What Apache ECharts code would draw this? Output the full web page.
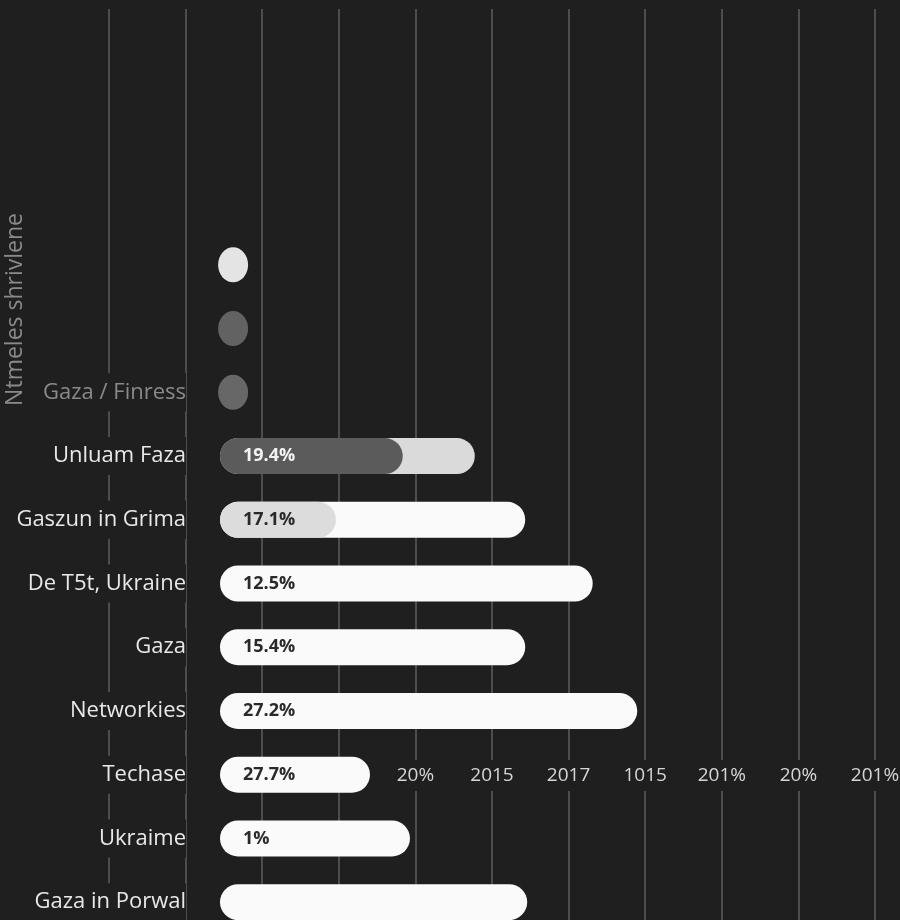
<!DOCTYPE html>
<html>
<head>
<meta charset="utf-8">
<script src="https://cdn.jsdelivr.net/npm/echarts@6/dist/echarts.min.js"></script>
<style>
  html, body { margin: 0; padding: 0; background: #1f1f1f; }
  #chart { width: 900px; height: 920px; }
</style>
</head>
<body>
<div id="chart"></div>
<script>
// rows top to bottom
const categories = ["", "", "Gaza / Finress", "Unluam Faza", "Gaszun in Grima", "De T5t, Ukraine",
  "Gaza", "Networkies", "Techase", "Ukraime", "Gaza in Porwal"];
// full bar length
const totals = [null, null, null, 38.9, 46.6, 56.9, 46.6, 63.7, 22.9, 29.0, 46.9];
// inner highlighted segment
const parts = [null, null, null, 27.9, 17.7, null, null, null, null, null, null];
const barLabels = ["", "", "", "19.4%", "17.1%", "12.5%", "15.4%", "27.2%", "27.7%", "1%", ""];
// dots in the three top rows
const dots = [2, 2, 2, null, null, null, null, null, null, null, null];
const dotColors = ["#e4e4e4", "#626262", "#676767"];
const partColors = { 3: "#5b5b5b", 4: "#dcdcdc" };
const totalColors = { 3: "#dadada" };
// labels along the grid lines
const tickLabels = ["", "", "", "", "20%", "2015", "2017", "1015", "201%", "20%", "201%"];

const FONT = "Open Sans";
const BG = "#1f1f1f";
const chart = echarts.init(document.getElementById("chart"));

const option = {
  backgroundColor: BG,
  animation: false,
  grid: [
    { left: 109, right: 25, top: 9, bottom: 0, outerBoundsMode: "none" },
    { left: 220, right: 25, top: 233, height: 701, outerBoundsMode: "none" }
  ],
  xAxis: [
    {
      gridIndex: 0, type: "value", min: 0, max: 10, interval: 1,
      position: "bottom", offset: -168, z: 1,
      axisLine: { show: false }, axisTick: { show: false },
      splitLine: { show: true, lineStyle: { color: "#5e5e5e", width: 1.5 } },
      axisLabel: {
        show: true, margin: 8,
        showMinLabel: true, showMaxLabel: true,
        formatter: (v) => (tickLabels[v] ? "{t|" + tickLabels[v] + "}" : ""),
        rich: {
          t: { color: "#d6d6d6", fontFamily: FONT, fontSize: 19, backgroundColor: BG, padding: [6, 3] }
        }
      }
    },
    {
      gridIndex: 1, type: "value", min: 0, max: 100, show: false
    }
  ],
  yAxis: [
    { gridIndex: 0, type: "value", show: false },
    {
      gridIndex: 1, type: "category", data: categories, inverse: true, z: 5,
      axisLine: { show: false }, axisTick: { show: false }, splitLine: { show: false },
      axisLabel: {
        margin: 34,
        formatter: (v, i) => (v ? (i === 2 ? "{g|" + v + "}" : "{w|" + v + "}") : ""),
        rich: {
          w: { color: "#e8e8e8", fontFamily: FONT, fontSize: 22, backgroundColor: BG, padding: [8, 0, 8, 4] },
          g: { color: "#8a8a8a", fontFamily: FONT, fontSize: 22, backgroundColor: BG, padding: [8, 0, 8, 4] }
        }
      }
    }
  ],
  // axis name on the far left, reading bottom to top
  graphic: [
    {
      type: "text", left: 4, top: 213, rotation: Math.PI / 2, originX: 0, originY: 0,
      style: { text: "Ntmeles shrivlene", fill: "#8a8a8a", font: "23px 'Open Sans'" }
    }
  ],
  series: [
    {
      type: "bar", xAxisIndex: 1, yAxisIndex: 1, barWidth: 36, z: 2,
      data: totals.map((v, i) => ({
        value: v,
        itemStyle: { color: totalColors[i] || "#fafafa", borderRadius: 18 }
      })),
      label: {
        show: true, position: "insideLeft", offset: [18, 0],
        fontFamily: FONT, fontSize: 18, fontWeight: "bold", color: "#2a2a2a",
        formatter: (p) => (parts[p.dataIndex] == null ? barLabels[p.dataIndex] : "")
      }
    },
    {
      type: "bar", xAxisIndex: 1, yAxisIndex: 1, barWidth: 36, barGap: "-100%", z: 3,
      data: parts.map((v, i) => ({
        value: v,
        itemStyle: { color: partColors[i] || "#fafafa", borderRadius: 18 },
        label: { color: i === 3 ? "#f4f4f4" : "#2a2a2a" }
      })),
      label: {
        show: true, position: "insideLeft", offset: [18, 0],
        fontFamily: FONT, fontSize: 18, fontWeight: "bold",
        formatter: (p) => barLabels[p.dataIndex]
      }
    },
    {
      type: "scatter", xAxisIndex: 1, yAxisIndex: 1, symbol: "circle", symbolSize: [30, 35], z: 4,
      itemStyle: { opacity: 1 },
      data: dots.map((v, i) => ({ value: v, itemStyle: { color: dotColors[i], opacity: 1 } }))
    }
  ]
};

chart.setOption(option);
</script>
</body>
</html>
